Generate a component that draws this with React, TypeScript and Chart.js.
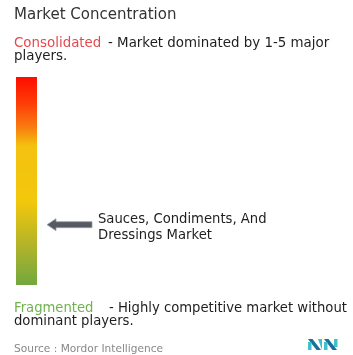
import React, { useEffect, useRef } from "react";
import { Chart, registerables } from "chart.js";

Chart.register(...registerables);

const categories: string[] = ["Market Concentration"];
const rangeValues: [number, number][] = [[0, 1]];
const marketLabel: string[] = ["Sauces, Condiments, And", "Dressings Market"];
const marketPosition: number[] = [0.29];
const titleText = "Market Concentration";
const consolidatedText = ["Consolidated", "- Market dominated by 1-5 major", "players."];
const fragmentedText = ["Fragmented", "- Highly competitive market without", "dominant players."];
const sourceText = "Source : Mordor Intelligence";

const FONT = '"DejaVu Sans", Verdana, sans-serif';

const textPlugin = {
  id: "textPlugin",
  afterDraw(chart: any) {
    const ctx = chart.ctx;
    const area = chart.chartArea;
    const ys = chart.scales.y;
    ctx.save();
    ctx.textBaseline = "alphabetic";
    ctx.textAlign = "left";
    // title
    ctx.font = `15px ${FONT}`;
    ctx.fillStyle = "#333333";
    ctx.fillText(titleText, 14, 19);
    // consolidated
    ctx.font = `13.4px ${FONT}`;
    ctx.fillStyle = "#e5484d";
    ctx.fillText(consolidatedText[0], 14, 47);
    ctx.fillStyle = "#1e1e1e";
    ctx.fillText(consolidatedText[1], 108, 47);
    ctx.fillText(consolidatedText[2], 14, 59.5);
    // fragmented
    ctx.font = `13.2px ${FONT}`;
    ctx.fillStyle = "#6fb24f";
    ctx.fillText(fragmentedText[0], 14, 312);
    ctx.fillStyle = "#1e1e1e";
    ctx.fillText(fragmentedText[1], 109, 312);
    ctx.fillText(fragmentedText[2], 14, 325);
    // source
    ctx.font = `10.6px ${FONT}`;
    ctx.fillStyle = "#888888";
    ctx.fillText(sourceText, 14, 352);

    // arrow
    const y = ys.getPixelForValue(marketPosition[0]);
    const x0 = area.right + 10;
    ctx.fillStyle = "#565a62";
    ctx.strokeStyle = "#9aa0a8";
    ctx.lineWidth = 0.8;
    ctx.beginPath();
    ctx.moveTo(x0, y);
    ctx.lineTo(x0 + 9, y - 6);
    ctx.lineTo(x0 + 9, y - 3);
    ctx.lineTo(x0 + 45, y - 3);
    ctx.lineTo(x0 + 45, y + 3);
    ctx.lineTo(x0 + 9, y + 3);
    ctx.lineTo(x0 + 9, y + 6);
    ctx.closePath();
    ctx.fill();
    ctx.stroke();

    // market label
    ctx.font = `13.2px ${FONT}`;
    ctx.fillStyle = "#1e1e1e";
    ctx.fillText(marketLabel[0], 98, y - 2);
    ctx.fillText(marketLabel[1], 98, y + 14);

    // logo
    const lx = 308, ly = 339;
    ctx.fillStyle = "#1c6e9c";
    ctx.beginPath();
    ctx.moveTo(lx, ly);
    ctx.lineTo(lx + 4.5, ly);
    ctx.lineTo(lx + 13, ly + 11);
    ctx.lineTo(lx + 8.5, ly + 11);
    ctx.closePath();
    ctx.fill();
    ctx.fillStyle = "#3fc1c9";
    ctx.fillRect(lx, ly + 3, 3.5, 8);
    ctx.beginPath();
    ctx.moveTo(lx + 10, ly);
    ctx.lineTo(lx + 14, ly);
    ctx.lineTo(lx + 14, ly + 11);
    ctx.closePath();
    ctx.fill();
    ctx.fillStyle = "#1c6e9c";
    ctx.beginPath();
    ctx.moveTo(lx + 16, ly);
    ctx.lineTo(lx + 20.5, ly);
    ctx.lineTo(lx + 29, ly + 11);
    ctx.lineTo(lx + 24.5, ly + 11);
    ctx.closePath();
    ctx.fill();
    ctx.fillStyle = "#3fc1c9";
    ctx.fillRect(lx + 16, ly + 3, 3.5, 8);
    ctx.fillRect(lx + 26, ly, 3.5, 8);
    ctx.restore();
  },
};

export default function App() {
  const ref = useRef<HTMLCanvasElement | null>(null);
  useEffect(() => {
    document.body.style.margin = "0";
    const canvas = ref.current;
    if (!canvas) return;
    const chart = new Chart(canvas, {
      type: "bar",
      data: {
        labels: categories,
        datasets: [
          {
            data: rangeValues as any,
            borderWidth: 0,
            barPercentage: 1,
            categoryPercentage: 1,
            backgroundColor: (c: any) => {
              const a = c.chart.chartArea;
              if (!a) return "#f5c50a";
              const g = c.chart.ctx.createLinearGradient(0, a.top, 0, a.bottom);
              g.addColorStop(0, "#ff0d00");
              g.addColorStop(0.12, "#fd3a06");
              g.addColorStop(0.24, "#f97a10");
              g.addColorStop(0.33, "#f4c10f");
              g.addColorStop(0.6, "#f2c80c");
              g.addColorStop(0.8, "#b5b428");
              g.addColorStop(1, "#72a83e");
              return g;
            },
          },
        ],
      },
      options: {
        responsive: false,
        animation: false,
        layout: { padding: { left: 16, right: 316, top: 77, bottom: 70 } },
        plugins: { legend: { display: false }, tooltip: { enabled: false }, title: { display: false } },
        scales: {
          x: { display: false },
          y: { display: false, min: 0, max: 1 },
        },
      },
      plugins: [textPlugin],
    });
    return () => chart.destroy();
  }, []);
  return (
    <div style={{ position: "fixed", left: 0, top: 0, width: 353, height: 355, background: "#fff" }}>
      <canvas ref={ref} width={353} height={355} />
    </div>
  );
}
